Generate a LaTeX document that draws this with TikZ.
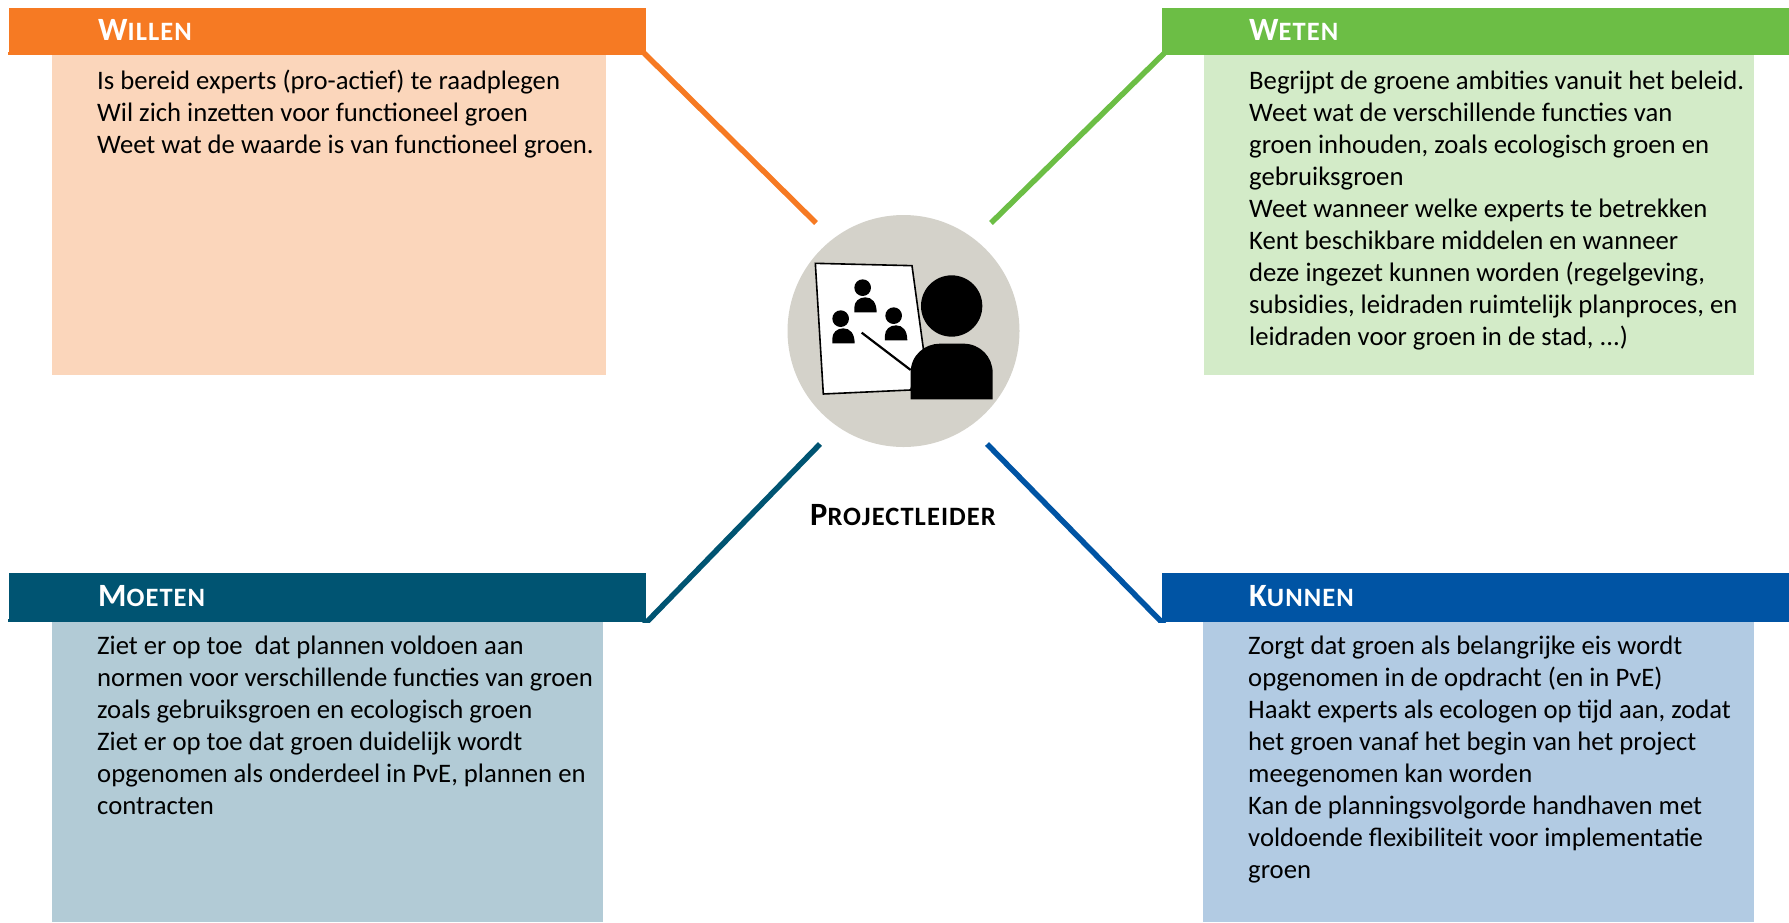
\documentclass[tikz,border=0pt]{standalone}
\usepackage{fontspec}
\setmainfont{Carlito}
\usetikzlibrary{calc}
\definecolor{orangeH}{HTML}{F67A23}
\definecolor{orangeB}{HTML}{FBD6BB}
\definecolor{greenH}{HTML}{6CBE45}
\definecolor{greenB}{HTML}{D3EBC8}
\definecolor{tealH}{HTML}{005472}
\definecolor{tealB}{HTML}{B2CBD6}
\definecolor{blueH}{HTML}{0054A4}
\definecolor{blueB}{HTML}{B2CBE3}
\definecolor{hubC}{HTML}{D4D2CA}
\newcommand{\capt}[2]{{\fontsize{32.5}{36}\selectfont #1}{\fontsize{26.5}{36}\selectfont\addfontfeatures{LetterSpace=4} #2}}
\tikzset{
  x=1pt,y=-1pt,
  header/.style={draw=none,inner sep=0pt,minimum height=47pt,anchor=north west},
  bodybox/.style={draw=none,inner sep=0pt,anchor=north west},
  title/.style={text=white,font=\bfseries,anchor=base west,inner sep=0pt},
  copy/.style={font=\fontsize{26.7}{32}\selectfont,align=left,anchor=north west,inner sep=0pt,text=black},
  link/.style={line width=5.5pt,shorten <=-3pt},
}
\begin{document}
\begin{tikzpicture}
\useasboundingbox (0,0) rectangle (1789,922);
% bodies
\node[bodybox,fill=orangeB,minimum width=554pt,minimum height=320pt] (wb) at (52,55) {};
\node[bodybox,fill=greenB,minimum width=550pt,minimum height=320pt] (kb) at (1204,55) {};
\node[bodybox,fill=tealB,minimum width=551pt,minimum height=300pt] (mb) at (52,622) {};
\node[bodybox,fill=blueB,minimum width=551pt,minimum height=300pt] (nb) at (1203,622) {};
% headers
\node[header,fill=orangeH,minimum width=637pt] (wh) at (9,8) {};
\node[header,fill=greenH,minimum width=627pt] (kh) at (1162,8) {};
\node[header,fill=tealH,minimum width=637pt,minimum height=49pt] (mh) at (9,573) {};
\node[header,fill=blueH,minimum width=627pt,minimum height=49pt] (nh) at (1162,573) {};
\fill[orangeH] (8,52) rectangle (10,55);
\fill[tealH] (8,619) rectangle (10,622);
% hub
\node[circle,fill=hubC,draw=none,minimum size=232pt,inner sep=0pt] (hub) at (903.5,331) {};
\begin{scope}[shift={(760,190)},x=0.3333pt,y=-0.3333pt]
  \draw[fill=white,line width=1.6pt,line join=miter] (166,220) -- (456,227) -- (492,490) -- (452,600) -- (190,612) -- cycle;
  \fill (575,348) circle[radius=92];
  \fill (452,628) -- (452,548) .. controls (452,495) and (495,461) .. (540,461) -- (610,461) .. controls (660,461) and (698,500) .. (698,548) -- (698,628) -- cycle;
  \fill (308,293) circle[radius=25];
  \fill (283,367) -- (283,352) .. controls (283,335) and (297,322) .. (316,322) .. controls (336,322) and (350,337) .. (350,367) -- cycle;
  \fill (242,386) circle[radius=25];
  \fill (217,460) -- (217,445) .. controls (217,428) and (231,415) .. (250,415) .. controls (270,415) and (284,430) .. (284,460) -- cycle;
  \fill (401,377) circle[radius=25];
  \fill (375,451) -- (375,436) .. controls (375,419) and (389,406) .. (408,406) .. controls (428,406) and (442,421) .. (442,451) -- cycle;
  \draw[line width=2.2pt] (305,428) -- (452,540);
\end{scope}
% connector ends
\coordinate (e1) at (816,223);
\coordinate (e2) at (991,223);
\coordinate (e3) at (820,444);
\coordinate (e4) at (987,444);
\draw[link,orangeH] (wh.south east) -- (e1);
\draw[link,greenH] (kh.south west) -- (e2);
\begin{scope}
  \clip (0,0) rectangle (1789,622);
  \draw[link,tealH] (mh.south east) -- (e3);
  \draw[link,blueH] (nh.south west) -- (e4);
\end{scope}
% titles
\node[title] (t1) at (98,40) {\capt{W}{ILLEN}};
\node[title] (t2) at (1249,40) {\capt{W}{ETEN}};
\node[title] (t3) at (98,606.5) {\capt{M}{OETEN}};
\node[title] (t4) at (1249,606.5) {\capt{K}{UNNEN}};
\node[title,text=black] (t5) at (810,525) {\capt{P}{ROJECTLEIDER}};
% copy
\node[copy] (c1) at (97,70) {Is bereid experts (pro-actief) te raadplegen\\Wil zich inzetten voor functioneel groen\\Weet wat de waarde is van functioneel groen.};
\node[copy] (c2) at (1249,71) {Begrijpt de groene ambities vanuit het beleid.\\Weet wat de verschillende functies van\\groen inhouden, zoals ecologisch groen en\\gebruiksgroen\\Weet wanneer welke experts te betrekken\\Kent beschikbare middelen en wanneer\\deze ingezet kunnen worden (regelgeving,\\subsidies, leidraden ruimtelijk planproces, en\\leidraden voor groen in de stad, ...)};
\node[copy] (c3) at (97,636) {Ziet er op toe\ \ dat plannen voldoen aan\\normen voor verschillende functies van groen\\zoals gebruiksgroen en ecologisch groen\\Ziet er op toe dat groen duidelijk wordt\\opgenomen als onderdeel in PvE, plannen en\\contracten};
\node[copy] (c4) at (1248,636) {Zorgt dat groen als belangrijke eis wordt\\opgenomen in de opdracht (en in PvE)\\Haakt experts als ecologen op tijd aan, zodat\\het groen vanaf het begin van het project\\meegenomen kan worden\\Kan de planningsvolgorde handhaven met\\voldoende flexibiliteit voor implementatie\\groen};
\end{tikzpicture}
\end{document}
